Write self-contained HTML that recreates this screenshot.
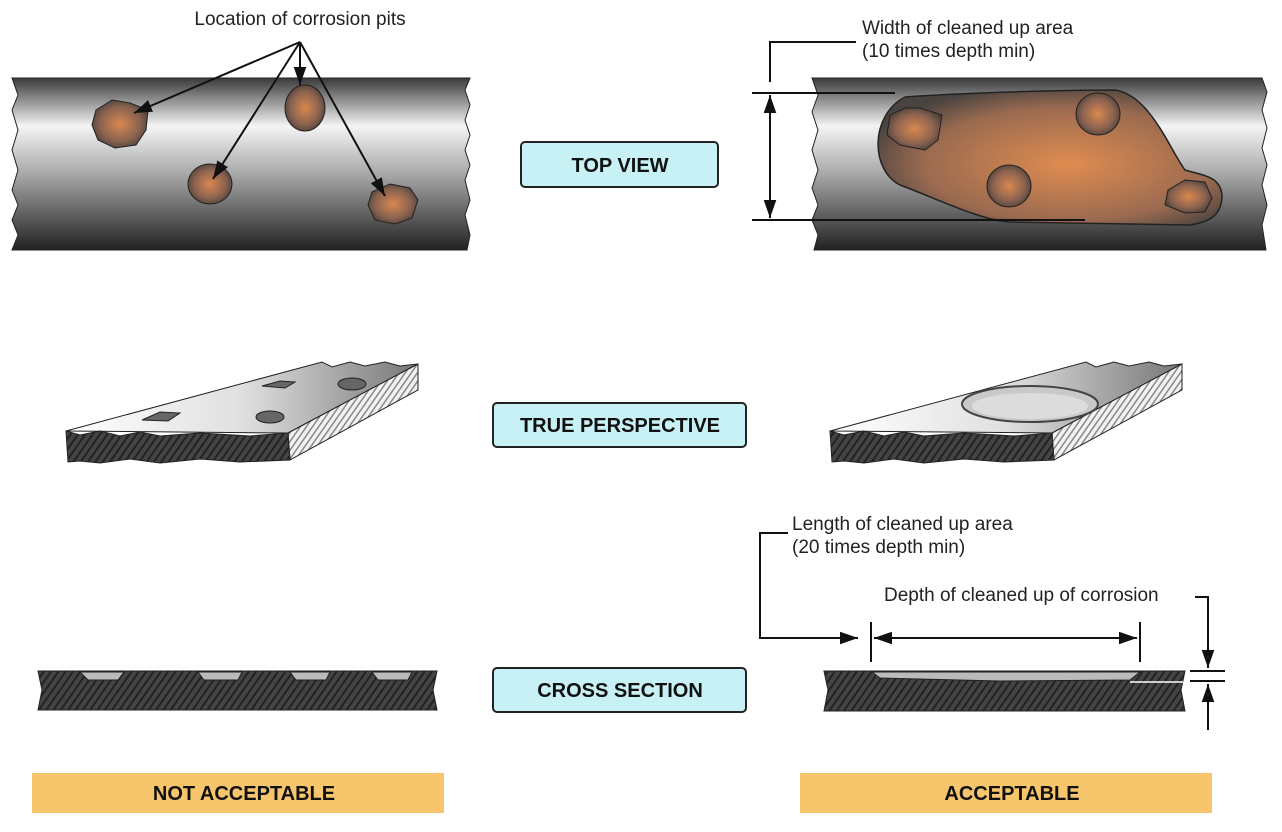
<!DOCTYPE html>
<html><head><meta charset="utf-8"><style>
body{margin:0;background:#fff;width:1282px;height:832px;overflow:hidden}
svg{display:block}
text{font-family:"Liberation Sans",sans-serif}
</style></head><body>
<svg width="1282" height="832" viewBox="0 0 1282 832">
<defs>
<linearGradient id="pipe" x1="0" y1="0" x2="0" y2="1">
<stop offset="0" stop-color="#3a3a3a"/><stop offset="0.28" stop-color="#f4f4f4"/><stop offset="0.55" stop-color="#aaa"/><stop offset="1" stop-color="#222"/></linearGradient>
<radialGradient id="rust" cx="0.5" cy="0.5" r="0.6">
<stop offset="0" stop-color="#d9884e"/><stop offset="0.6" stop-color="#8a6250"/><stop offset="1" stop-color="#3c3834"/></radialGradient>
<radialGradient id="rust2" cx="0.55" cy="0.55" r="0.6">
<stop offset="0" stop-color="#e08c50"/><stop offset="0.7" stop-color="#9a6a50"/><stop offset="1" stop-color="#4a4440"/></radialGradient>
<linearGradient id="plate" x1="0" y1="0" x2="1" y2="0">
<stop offset="0" stop-color="#fff"/><stop offset="0.5" stop-color="#e0e0e0"/><stop offset="1" stop-color="#777"/></linearGradient>
<pattern id="hatch" width="6" height="6" patternUnits="userSpaceOnUse" patternTransform="rotate(35)">
<rect width="6" height="6" fill="#444"/><rect width="2" height="6" fill="#222"/></pattern>
<pattern id="hatch2" width="5" height="5" patternUnits="userSpaceOnUse" patternTransform="rotate(35)">
<rect width="5" height="5" fill="#f2f2f2"/><rect width="1.5" height="5" fill="#888"/></pattern>
<marker id="arL" viewBox="0 0 10 10" refX="10" refY="5" markerWidth="18" markerHeight="18" markerUnits="userSpaceOnUse" orient="auto"><path d="M0,1.5 L10,5 L0,8.5z" fill="#111"/></marker>
</defs>

<!-- Top-left pipe -->
<path d="M12,78 H470 L465,90 470,105 465,120 470,135 465,150 470,165 465,180 470,200 465,215 470,235 467,250 H12 L18,235 12,220 18,205 12,190 18,170 12,150 18,130 12,110 18,95z" fill="url(#pipe)" stroke="#222" stroke-width="1"/>
<path d="M96,110 L112,100 130,103 148,110 146,130 136,145 115,148 98,140 92,125z" fill="url(#rust)" stroke="#222"/>
<ellipse cx="305" cy="108" rx="20" ry="23" fill="url(#rust)" stroke="#222"/>
<ellipse cx="210" cy="184" rx="22" ry="20" fill="url(#rust)" stroke="#222"/>
<path d="M372,192 L390,184 410,188 418,200 412,218 395,224 375,220 368,205z" fill="url(#rust)" stroke="#222"/>
<text x="300" y="25" font-size="19" text-anchor="middle" fill="#222">Location of  corrosion pits</text>
<g stroke="#111" stroke-width="2" marker-end="url(#arL)">
<line x1="300" y1="42" x2="134" y2="113"/><line x1="300" y1="42" x2="300" y2="85"/>
<line x1="300" y1="42" x2="213" y2="179"/><line x1="300" y1="42" x2="385" y2="196"/></g>

<!-- Top-right pipe -->
<path d="M812,78 H1262 L1267,92 1262,110 1267,128 1262,148 1267,165 1262,185 1267,205 1262,225 1266,250 H814 L818,235 812,220 818,205 812,188 818,170 812,150 818,130 812,112 818,95z" fill="url(#pipe)" stroke="#222"/>
<path d="M905,97 C960,93 1060,90 1115,90 C1150,95 1170,150 1185,170 C1200,175 1220,175 1222,195 C1222,215 1210,222 1190,225 L1010,222 C980,220 940,200 900,185 C870,170 870,115 905,97z" fill="url(#rust2)" stroke="#222" stroke-width="1.5"/>
<path d="M890,115 L905,108 920,108 942,115 938,140 925,150 900,145 887,135z" fill="url(#rust)" stroke="#222"/>
<ellipse cx="1098" cy="114" rx="22" ry="21" fill="url(#rust)" stroke="#222"/>
<ellipse cx="1009" cy="186" rx="22" ry="21" fill="url(#rust)" stroke="#222"/>
<path d="M1168,190 L1185,180 1205,182 1212,198 1205,212 1185,213 1165,205z" fill="url(#rust)" stroke="#222"/>
<g stroke="#111" stroke-width="2" fill="none">
<path d="M770,82 V42 H856"/>
<line x1="752" y1="93" x2="895" y2="93"/><line x1="752" y1="220" x2="1085" y2="220"/></g>
<line x1="770" y1="150" x2="770" y2="95" stroke="#111" stroke-width="2" marker-end="url(#arL)"/>
<line x1="770" y1="150" x2="770" y2="218" stroke="#111" stroke-width="2" marker-end="url(#arL)"/>
<text x="862" y="34" font-size="19" fill="#222">Width of cleaned up area</text>
<text x="862" y="57" font-size="19" fill="#222">(10 times depth min)</text>

<!-- Labels -->
<g font-weight="bold" font-size="20" text-anchor="middle" fill="#111">
<rect x="521" y="142" width="197" height="45" rx="4" fill="#c8f1f6" stroke="#222" stroke-width="2"/>
<text x="620" y="172">TOP VIEW</text>
<rect x="493" y="403" width="253" height="44" rx="4" fill="#c8f1f6" stroke="#222" stroke-width="2"/>
<text x="620" y="432">TRUE PERSPECTIVE</text>
<rect x="493" y="668" width="253" height="44" rx="4" fill="#c8f1f6" stroke="#222" stroke-width="2"/>
<text x="620" y="697">CROSS SECTION</text>
<rect x="32" y="773" width="412" height="40" fill="#f7c56b"/>
<text x="244" y="800">NOT ACCEPTABLE</text>
<rect x="800" y="773" width="412" height="40" fill="#f7c56b"/>
<text x="1012" y="800">ACCEPTABLE</text>
</g>

<!-- Perspective left -->
<path d="M66,431 L322,362 L332,367 L350,362 L365,366 L385,362 L400,366 L418,364 L288,433z" fill="url(#plate)" stroke="#222"/>
<path d="M288,433 L418,364 L418,390 L290,460z" fill="url(#hatch2)" stroke="#222"/>
<path d="M66,431 L80,435 100,431 120,436 140,432 160,436 200,433 250,436 288,433 L290,460 L240,462 200,459 160,463 130,459 100,463 80,461 68,462z" fill="url(#hatch)" stroke="#222"/>
<path d="M142,420 L160,412 180,413 168,421z" fill="#666" stroke="#222"/>
<ellipse cx="270" cy="417" rx="14" ry="6" fill="#666" stroke="#222"/>
<path d="M262,386 L280,381 295,382 285,388z" fill="#666" stroke="#222"/>
<ellipse cx="352" cy="384" rx="14" ry="6" fill="#666" stroke="#222"/>

<!-- Perspective right -->
<path d="M830,431 L1086,362 L1096,367 L1114,362 L1129,366 L1149,362 L1164,366 L1182,364 L1052,433z" fill="url(#plate)" stroke="#222"/>
<path d="M1052,433 L1182,364 L1182,390 L1054,460z" fill="url(#hatch2)" stroke="#222"/>
<path d="M830,431 L844,435 864,431 884,436 904,432 924,436 964,433 1014,436 1052,433 L1054,460 L1004,462 964,459 924,463 894,459 864,463 844,461 832,462z" fill="url(#hatch)" stroke="#222"/>
<ellipse cx="1030" cy="404" rx="68" ry="18" fill="#c9c9c9" stroke="#444" stroke-width="2"/>
<ellipse cx="1030" cy="406" rx="58" ry="13" fill="#dcdcdc" stroke="none"/>

<!-- Cross section left -->
<path d="M38,671 H437 L433,690 437,710 H38 L42,690z" fill="url(#hatch)" stroke="#222"/>
<path d="M80,672 L88,680 L118,680 L124,672z M198,672 L204,680 L238,680 L242,672z M290,672 L296,680 L326,680 L330,672z M372,672 L378,680 L408,680 L412,672z" fill="#bbb" stroke="#222"/>

<!-- Cross section right -->
<path d="M824,671 H1185 L1181,690 1185,711 H824 L828,690z" fill="url(#hatch)" stroke="#222"/>
<path d="M872,672 L880,678 L1000,681 L1130,680 L1140,672z" fill="#bbb" stroke="#222"/>
<line x1="1130" y1="682" x2="1183" y2="682" stroke="#fff" stroke-width="1.5"/>
<g stroke="#111" stroke-width="2" fill="none">
<path d="M788,533 H760 V638 H858" marker-end="url(#arL)"/>
<line x1="871" y1="622" x2="871" y2="662"/><line x1="1140" y1="622" x2="1140" y2="662"/>
<line x1="1005" y1="638" x2="874" y2="638" marker-end="url(#arL)"/>
<line x1="1005" y1="638" x2="1137" y2="638" marker-end="url(#arL)"/>
<path d="M1195,597 H1208 V668" marker-end="url(#arL)"/>
<line x1="1190" y1="671" x2="1225" y2="671"/><line x1="1190" y1="681" x2="1225" y2="681"/>
<line x1="1208" y1="730" x2="1208" y2="684" marker-end="url(#arL)"/>
</g>
<text x="792" y="530" font-size="19" fill="#222">Length of cleaned up area</text>
<text x="792" y="553" font-size="19" fill="#222">(20 times depth min)</text>
<text x="884" y="601" font-size="19" fill="#222">Depth of cleaned up of corrosion</text>
</svg>
</body></html>
